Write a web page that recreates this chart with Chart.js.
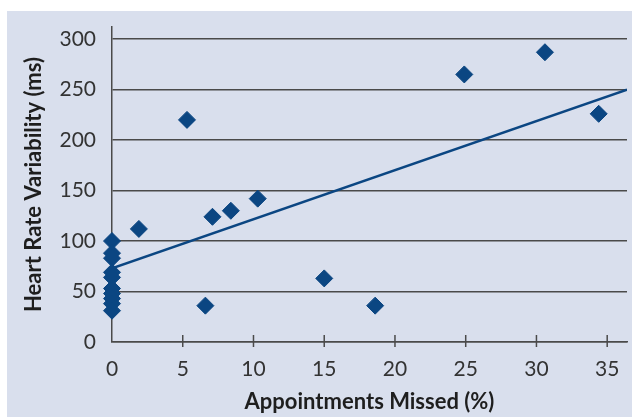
<!DOCTYPE html>
<html>
<head>
<meta charset="utf-8">
<script src="https://cdn.jsdelivr.net/npm/chart.js@4"></script>
<style>
  html, body { margin: 0; padding: 0; background: #ffffff; }
  #wrap { position: relative; width: 632px; height: 417px; }
</style>
</head>
<body>
<div id="wrap"><canvas id="hrvChart"></canvas></div>
<script>
// --- data ---
const missedPct = [0, 0, 0, 0, 0, 0, 0, 0, 0, 0,
                   1.9, 5.3, 6.6, 7.1, 8.4, 10.3, 15.0, 18.6, 24.9, 30.6, 34.4];
const hrvMs     = [100, 88, 83, 69, 64, 53, 48, 43, 38, 31,
                   112, 220, 36, 124, 130, 142, 63, 36, 265, 287, 226];
const trendX = [0, 36.4];
const trendY = [73, 250];
const xTicks = [0, 5, 10, 15, 20, 25, 30, 35];
const yTicks = [0, 50, 100, 150, 200, 250, 300];

const navy = '#0b4682';
const axisGray = '#4a4a4a';
const panelColor = '#d9dfed';

const points = missedPct.map((x, i) => ({ x: x, y: hrvMs[i] }));
const trend = trendX.map((x, i) => ({ x: x, y: trendY[i] }));

// lavender panel behind the plot
const panelBg = {
    id: 'panelBg',
    beforeDraw(chart) {
        const { ctx, width, height } = chart;
        ctx.save();
        ctx.fillStyle = panelColor;
        ctx.fillRect(7, 11, width - 7, height - 11);
        ctx.restore();
    }
};

// tick marks that cross the x axis
const crossTicks = {
    id: 'crossTicks',
    beforeDatasetsDraw(chart) {
        const { ctx, scales: { x } } = chart;
        ctx.save();
        ctx.strokeStyle = axisGray;
        ctx.lineWidth = 1.5;
        xTicks.forEach(v => {
            if (v === x.min) return;
            const px = x.getPixelForValue(v);
            ctx.beginPath();
            ctx.moveTo(px, x.top - 7);
            ctx.lineTo(px, x.top + 5);
            ctx.stroke();
        });
        ctx.restore();
    }
};

new Chart(document.getElementById('hrvChart'), {
    type: 'scatter',
    data: {
        datasets: [
            {
                label: 'HRV',
                data: points,
                pointStyle: 'rectRot',
                pointRadius: 8.5,
                pointHoverRadius: 8.5,
                backgroundColor: navy,
                borderColor: navy,
                borderWidth: 1,
                clip: false
            },
            {
                type: 'line',
                label: 'Trend',
                data: trend,
                borderColor: navy,
                borderWidth: 2.5,
                pointRadius: 0,
                fill: false
            }
        ]
    },
    options: {
        responsive: true,
        maintainAspectRatio: false,
        animation: false,
        layout: { autoPadding: false, padding: { left: 0, right: 5, top: 27, bottom: 0 } },
        plugins: {
            legend: { display: false },
            tooltip: { enabled: false }
        },
        scales: {
            x: {
                type: 'linear',
                min: 0,
                max: 36.4,
                afterBuildTicks: (axis) => { axis.ticks = xTicks.map(v => ({ value: v })); },
                afterFit: (axis) => {
                    axis.height = 75;
                    axis.paddingLeft = 0;
                    axis.paddingRight = 0;
                },
                grid: { display: false, drawTicks: false },
                border: { display: true, color: axisGray, width: 1.5 },
                ticks: {
                    padding: 15,
                    color: '#333333',
                    font: { family: 'Lato', size: 21 },
                    maxRotation: 0
                },
                title: {
                    display: true,
                    text: 'Appointments Missed (%)',
                    color: '#1e1e1e',
                    font: { family: 'Lato', size: 22, weight: 'bold' },
                    padding: { top: 0, bottom: 2 }
                }
            },
            y: {
                type: 'linear',
                min: 0,
                max: 312,
                afterBuildTicks: (axis) => { axis.ticks = yTicks.map(v => ({ value: v })); },
                afterFit: (axis) => {
                    axis.width = 112;
                    axis.paddingTop = 0;
                    axis.paddingBottom = 0;
                },
                grid: { color: axisGray, lineWidth: 1.5, drawTicks: false },
                border: { display: true, color: axisGray, width: 1.5 },
                ticks: {
                    padding: 16,
                    color: '#333333',
                    font: { family: 'Lato', size: 21 }
                },
                title: {
                    display: true,
                    text: 'Heart Rate Variability (ms)',
                    color: '#1e1e1e',
                    font: { family: 'Lato', size: 22, weight: 'bold' },
                    padding: { top: 21, bottom: 0 }
                }
            }
        }
    },
    plugins: [panelBg, crossTicks]
});
</script>
</body>
</html>
